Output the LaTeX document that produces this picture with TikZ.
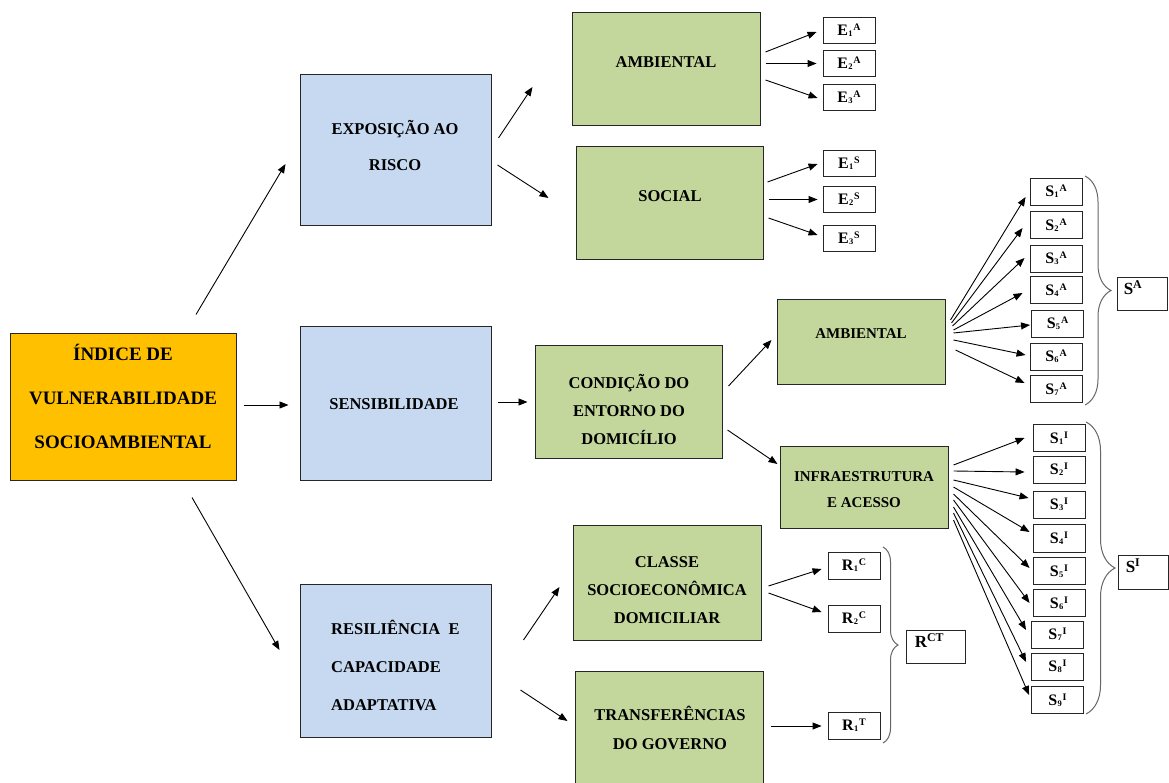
\documentclass[tikz,border=0pt]{standalone}
\usepackage{fontspec}
\setmainfont{Liberation Serif}
\usetikzlibrary{arrows.meta,decorations.pathreplacing}
\definecolor{orangeC}{HTML}{FFC000}
\definecolor{blueC}{HTML}{C6D9F1}
\definecolor{greenC}{HTML}{C3D69B}
\newcommand\idx[3]{#1\kern0.3pt{\fontsize{8.5}{9}\selectfont\raisebox{-1.2pt}{#2}}\kern0.8pt{\fontsize{10}{10}\selectfont\raisebox{5pt}{#3}}}
\begin{document}
\begin{tikzpicture}[x=1pt,y=-1pt,
  box/.style={draw=black!85, line width=1pt, inner sep=0pt},
  bluebox/.style={box, fill=blueC, minimum width=191, minimum height=153},
  greenbox/.style={box, fill=greenC, minimum width=188, minimum height=113},
  txt/.style={font=\bfseries\fontsize{16.5}{28}\selectfont, align=center, inner sep=0pt, text=black},
  sbox/.style={draw=black!85, line width=0.9pt, fill=white, minimum width=52, minimum height=27, inner sep=0pt, font=\bfseries\fontsize{16}{16}\selectfont},
  lab/.style={inner sep=0pt, font=\bfseries\fontsize{17}{18}\selectfont},
  arr/.style={line width=0.9pt, -{Triangle[length=9pt,width=7pt]}},
  brc/.style={draw=black!60, line width=1pt, decorate},
]
\useasboundingbox (0,0) rectangle (1169,783);
\fill[white] (0,0) rectangle (1169,783);

% main
\node[box, fill=orangeC, minimum width=226, minimum height=147] (main) at (123,406.5) {};
\node[txt, font=\bfseries\fontsize{19}{44}\selectfont] (mainT) at (123,396) {ÍNDICE DE\\VULNERABILIDADE\\SOCIOAMBIENTAL};

% level 1
\node[bluebox, minimum height=151] (expo) at (395.5,150.5) {};
\node[txt, font=\bfseries\fontsize{16.5}{36}\selectfont] (expoT) at (395,145) {EXPOSIÇÃO AO\\RISCO};
\node[bluebox] (sens) at (395.5,403.5) {};
\node[txt] (sensT) at (394,404) {SENSIBILIDADE};
\node[bluebox] (resil) at (395.5,660.5) {};
\node[txt, font=\bfseries\fontsize{16.5}{38}\selectfont, align=left, anchor=west] (resilT) at (331,665) {RESILIÊNCIA~~E\\CAPACIDADE\\ADAPTATIVA};

% level 2
\node[greenbox] (amb1) at (666,69.5) {};
\node[txt] (amb1T) at (666,62) {AMBIENTAL};
\node[greenbox, minimum width=187] (soc) at (669.5,203.5) {};
\node[txt] (socT) at (670,196) {SOCIAL};
\node[greenbox, minimum width=187] (cond) at (628.5,401.5) {};
\node[txt] (condT) at (629,409) {CONDIÇÃO DO\\ENTORNO DO\\DOMICÍLIO};
\node[greenbox, minimum width=168, minimum height=84] (amb2) at (861,342) {};
\node[txt, font=\bfseries\fontsize{15}{26}\selectfont] (amb2T) at (861,334) {AMBIENTAL};
\node[greenbox, minimum width=168, minimum height=82] (infra) at (864,487) {};
\node[txt, font=\bfseries\fontsize{15}{26}\selectfont] (infraT) at (864,490) {INFRAESTRUTURA\\E ACESSO};
\node[greenbox, minimum height=115] (classe) at (667,582.5) {};
\node[txt] (classeT) at (667,590) {CLASSE\\SOCIOECONÔMICA\\DOMICILIAR};
\node[greenbox, minimum height=119] (transf) at (669,730.5) {};
\node[txt, font=\bfseries\fontsize{16.5}{29}\selectfont] (transfT) at (670,727.5) {TRANSFERÊNCIAS\\DO GOVERNO};

% E boxes
\node[sbox, minimum height=26] (e1a) at (849,30) {\idx{E}{1}{A}};
\node[sbox, minimum height=26] (e2a) at (849,63.5) {\idx{E}{2}{A}};
\node[sbox, minimum height=26] (e3a) at (849,97) {\idx{E}{3}{A}};
\node[sbox, minimum height=26] (e1s) at (849,163.5) {\idx{E}{1}{S}};
\node[sbox, minimum height=26] (e2s) at (849,199.5) {\idx{E}{2}{S}};
\node[sbox, minimum height=26] (e3s) at (849,238) {\idx{E}{3}{S}};

% S^A boxes
\node[sbox] (s1a) at (1056,191.5) {\idx{S}{1}{A}};
\node[sbox] (s2a) at (1056,225) {\idx{S}{2}{A}};
\node[sbox] (s3a) at (1056,258.5) {\idx{S}{3}{A}};
\node[sbox] (s4a) at (1056,290) {\idx{S}{4}{A}};
\node[sbox] (s5a) at (1057.5,323.5) {\idx{S}{5}{A}};
\node[sbox] (s6a) at (1056,356.5) {\idx{S}{6}{A}};
\node[sbox] (s7a) at (1056,389) {\idx{S}{7}{A}};

% S^I boxes
\node[sbox] (s1i) at (1059,438) {\idx{S}{1}{I}};
\node[sbox] (s2i) at (1059,469.5) {\idx{S}{2}{I}};
\node[sbox] (s3i) at (1059,504.5) {\idx{S}{3}{I}};
\node[sbox, minimum height=28] (s4i) at (1059,538.5) {\idx{S}{4}{I}};
\node[sbox] (s5i) at (1059,571) {\idx{S}{5}{I}};
\node[sbox] (s6i) at (1059,603) {\idx{S}{6}{I}};
\node[sbox] (s7i) at (1057.5,634.5) {\idx{S}{7}{I}};
\node[sbox] (s8i) at (1057.5,666.5) {\idx{S}{8}{I}};
\node[sbox] (s9i) at (1057.5,700) {\idx{S}{9}{I}};

% R boxes
\node[sbox] (r1c) at (854,565.5) {\idx{R}{1}{C}};
\node[sbox] (r2c) at (854,618.5) {\idx{R}{2}{C}};
\node[sbox] (r1t) at (854,725.5) {\idx{R}{1}{T}};

% aggregate boxes
\node[sbox, minimum width=50, minimum height=33,
  label={[lab, anchor=north west, inner xsep=7pt, inner ysep=4pt]north west:{S\textsuperscript{A}}}] (sa) at (1142,293.5) {};
\node[sbox, minimum width=50, minimum height=34,
  label={[lab, anchor=north west, inner xsep=8pt, inner ysep=4pt]north west:{S\textsuperscript{I}}}] (si) at (1143,572) {};
\node[sbox, minimum width=59, minimum height=33,
  label={[lab, anchor=north west, inner xsep=9pt, inner ysep=4pt]north west:{R\textsuperscript{CT}}}] (rct) at (935.5,646.5) {};

% braces
\coordinate (saTop) at (1085,176);
\coordinate (saBot) at (1085,405);
\coordinate (siTop) at (1086,422);
\coordinate (siBot) at (1086,714);
\coordinate (rTop) at (883,547);
\coordinate (rBot) at (883,743);
\draw[brc, decoration={brace, amplitude=26pt}] (saTop) -- (saBot);
\draw[brc, decoration={brace, amplitude=29pt}] (siTop) -- (siBot);
\draw[brc, decoration={brace, amplitude=15pt}] (rTop) -- (rBot);

% main arrows
\draw[arr] ([shift={(73,-18)}]main.north) -- ([shift={(-14,13.5)}]expo.west);
\draw[arr] ([shift={(7,-1.5)}]main.east) -- ([shift={(-11,1.5)}]sens.west);
\draw[arr] ([shift={(69,17)}]main.south) -- ([shift={(-20,-10.5)}]resil.west);
\draw[arr] ([shift={(7,-12.5)}]expo.east) -- ([shift={(-39,17.5)}]amb1.west);
\draw[arr] ([shift={(6,14.5)}]expo.east) -- ([shift={(-27,-5.5)}]soc.west);
\draw[arr] ([shift={(6,-1.5)}]sens.east) -- ([shift={(-7,0.5)}]cond.west);
\draw[arr] ([shift={(32,-20.5)}]resil.east) -- ([shift={(-13,4.5)}]classe.west);
\draw[arr] ([shift={(29,29.5)}]resil.east) -- ([shift={(-7,-9.5)}]transf.west);
\draw[arr] ([shift={(6,-15.5)}]cond.east) -- ([shift={(-5,-2)}]amb2.west);
\draw[arr] ([shift={(5,28.5)}]cond.east) -- ([shift={(-2,-23)}]infra.west);

% E arrows
\draw[arr] ([shift={(5,-17.5)}]amb1.east) -- ([shift={(-6,2)}]e1a.west);
\draw[arr] ([shift={(5,-6)}]amb1.east) -- ([shift={(-6,0)}]e2a.west);
\draw[arr] ([shift={(5,10.5)}]amb1.east) -- ([shift={(-5,1)}]e3a.west);
\draw[arr] ([shift={(4,-21.5)}]soc.east) -- ([shift={(-5,0.5)}]e1s.west);
\draw[arr] ([shift={(5,-4)}]soc.east) -- ([shift={(-5,0)}]e2s.west);
\draw[arr] ([shift={(5,14.5)}]soc.east) -- ([shift={(-5,-3)}]e3s.west);

% S^A arrows
\draw[arr] ([shift={(5,-22)}]amb2.east) -- ([shift={(-4,5.5)}]s1a.west);
\draw[arr] ([shift={(6,-19)}]amb2.east) -- ([shift={(-7,3)}]s2a.west);
\draw[arr] ([shift={(7,-16)}]amb2.east) -- ([shift={(-5,-0.5)}]s3a.west);
\draw[arr] ([shift={(8,-12)}]amb2.east) -- ([shift={(-7,3)}]s4a.west);
\draw[arr] ([shift={(8,-9)}]amb2.east) -- ([shift={(-1,1.5)}]s5a.west);
\draw[arr] ([shift={(8,-2)}]amb2.east) -- ([shift={(-4,-1.5)}]s6a.west);
\draw[arr] ([shift={(10,8)}]amb2.east) -- ([shift={(-5,-6)}]s7a.west);

% S^I arrows
\draw[arr] ([shift={(5,-22)}]infra.east) -- ([shift={(-8,0)}]s1i.west);
\draw[arr] ([shift={(5,-16)}]infra.east) -- ([shift={(-8,2.5)}]s2i.west);
\draw[arr] ([shift={(5,-7)}]infra.east) -- ([shift={(-4,-6.5)}]s3i.west);
\draw[arr] ([shift={(5,0)}]infra.east) -- ([shift={(-3,-6.5)}]s4i.west);
\draw[arr] ([shift={(5,7)}]infra.east) -- ([shift={(-3,-3)}]s5i.west);
\draw[arr] ([shift={(5,13)}]infra.east) -- ([shift={(-3,0)}]s6i.west);
\draw[arr] ([shift={(5,20)}]infra.east) -- ([shift={(-5,-4.5)}]s7i.west);
\draw[arr] ([shift={(5,26)}]infra.east) -- ([shift={(-5,-4.5)}]s8i.west);
\draw[arr] ([shift={(5,33)}]infra.east) -- ([shift={(-2,-5)}]s9i.west);

% R arrows
\draw[arr] ([shift={(7,3.5)}]classe.east) -- ([shift={(-6,3.5)}]r1c.west);
\draw[arr] ([shift={(7,10.5)}]classe.east) -- ([shift={(-6,-6.5)}]r2c.west);
\draw[arr] ([shift={(7,-4.5)}]transf.east) -- ([shift={(-6,0.5)}]r1t.west);
\end{tikzpicture}
\end{document}
